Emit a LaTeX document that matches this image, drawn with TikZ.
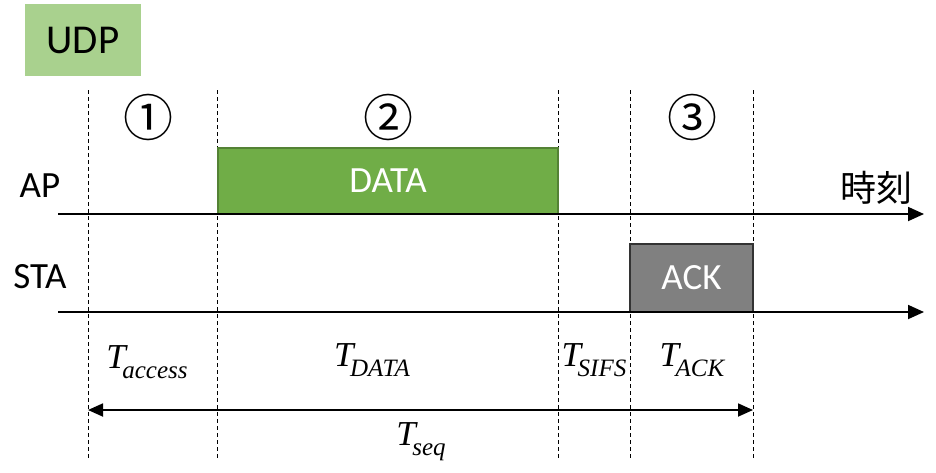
\documentclass[tikz,border=0pt]{standalone}
\usepackage{fontspec}
\setmainfont{Carlito}
\newfontfamily\serifit{Liberation Serif}[ItalicFont={Liberation Serif Italic}]
\newfontfamily\jp{Noto Sans CJK JP}
\usetikzlibrary{arrows.meta}
\definecolor{udpgreen}{HTML}{A9D18E}
\definecolor{datagreen}{HTML}{70AD47}
\definecolor{databorder}{HTML}{548235}
\definecolor{ackgray}{HTML}{808080}
\newcommand{\Tlab}[1]{{\serifit\itshape\fontsize{35}{38}\selectfont T\kern-0.1em\raisebox{-0.28em}{\fontsize{25}{27}\selectfont #1}}}
\begin{document}
\begin{tikzpicture}[x=1pt,y=-1pt,
  sep/.style={line width=0.7pt, dash pattern=on 4pt off 3pt},
  axis/.style={line width=1.8pt, -{Triangle[length=16pt,width=14pt]}},
  lbl/.style={font=\fontsize{37}{39}\selectfont, inner sep=0pt},
  num/.style={font=\jp\fontsize{50}{52}\selectfont, inner sep=0pt},
  frame/.style={line width=1.8pt, inner sep=0pt, font=\fontsize{37}{39}\selectfont, text=white}]
\useasboundingbox (0,0) rectangle (936,472);
\node[fill=udpgreen, minimum width=116pt, minimum height=72pt, inner sep=0pt, font=\fontsize{41}{43}\selectfont] (udp) at (83,40) {UDP};
% separators
\foreach \x/\n in {88/1,217/2,558/3,630/4,753/5}{
  \coordinate (s\n t) at (\x,90);
  \coordinate (s\n b) at (\x,458);
  \draw[sep] (s\n t) -- (s\n b);
}
\node[num] (n1) at (148,117) {①};
\node[num] (n2) at (388,117) {②};
\node[num] (n3) at (692,117) {③};
% boxes
\node[frame, fill=datagreen, draw=databorder, minimum width=340pt, minimum height=66pt] (data) at (388,181) {DATA};
\node[frame, fill=ackgray, draw=black!80, minimum width=123pt, minimum height=68pt] (ack) at (691.5,278) {ACK};
% axes
\coordinate (apL) at (58,214); \coordinate (apR) at (924,214);
\coordinate (stL) at (58,312); \coordinate (stR) at (924,312);
\draw[axis] (apL) -- (apR);
\draw[axis] (stL) -- (stR);
\node[lbl] (ap) at (40,186) {AP};
\node[lbl] (sta) at (40,277) {STA};
\node[font=\jp\fontsize{36}{38}\selectfont, inner sep=0pt] (jikoku) at (876,188) {時刻};
% T labels
\node[inner sep=0pt] (ta) at (147,362) {\Tlab{access}};
\node[inner sep=0pt] (td) at (372,360) {\Tlab{DATA}};
\node[inner sep=0pt] (ts) at (594,360) {\Tlab{SIFS}};
\node[inner sep=0pt] (tk) at (692,360) {\Tlab{ACK}};
% Tseq arrow
\coordinate (qL) at (88,410); \coordinate (qR) at (753,410);
\draw[line width=1.8pt, {Triangle[length=15pt,width=13pt]}-{Triangle[length=15pt,width=13pt]}] (qL) -- (qR);
\node[inner sep=0pt] (tq) at (421,442) {\Tlab{seq}};
\end{tikzpicture}
\end{document}
